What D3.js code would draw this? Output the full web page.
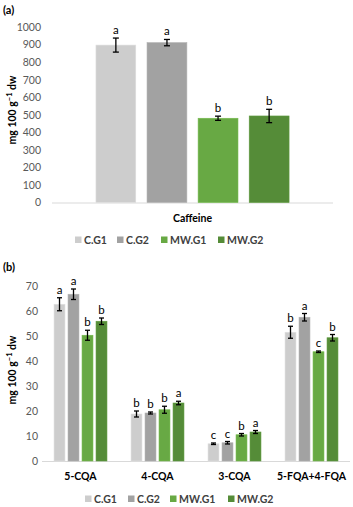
<!DOCTYPE html>
<html>
<head>
<meta charset="utf-8">
<script src="https://cdn.jsdelivr.net/npm/d3@7"></script>
<style>
  body { margin: 0; background: #fff; }
  svg { font-family: Lato, "Open Sans", sans-serif; }
</style>
</head>
<body>
<svg id="chart" width="353" height="507"></svg>
<script>
// series and colours
var seriesNames = ["C.G1", "C.G2", "MW.G1", "MW.G2"];
var seriesColors = ["#cdcdcd", "#a2a2a2", "#68a944", "#558c38"];

// panel (a): caffeine
var catsA = ["Caffeine"];
var valuesA = [[897], [911], [480], [493]];
var errorsA = [[40], [18], [12], [38]];
var lettersA = [["a"], ["a"], ["b"], ["b"]];
var ticksA = [0, 100, 200, 300, 400, 500, 600, 700, 800, 900, 1000];

// panel (b): chlorogenic acids
var catsB = ["5-CQA", "4-CQA", "3-CQA", "5-FQA+4-FQA"];
var valuesB = [
    [62.7, 18.8, 6.9, 51.5],
    [66.7, 19.2, 7.3, 57.5],
    [50.3, 20.5, 10.5, 43.7],
    [55.9, 23.2, 11.6, 49.3]
];
var errorsB = [
    [2.6, 1.2, 0.3, 2.4],
    [2.1, 0.4, 0.5, 1.5],
    [2.0, 1.4, 0.5, 0.3],
    [1.3, 0.7, 0.6, 1.3]
];
var lettersB = [
    ["a", "b", "c", "b"],
    ["a", "b", "c", "a"],
    ["b", "b", "b", "c"],
    ["b", "a", "a", "b"]
];
var ticksB = [0, 10, 20, 30, 40, 50, 60, 70];

var svg = d3.select("#chart");

function drawPanel (cfg) {

    var g = svg.append("g");

    var y = d3.scaleLinear()
                .domain([0, cfg.yMax])
                .range([cfg.y0, cfg.y1]);

    var x0 = d3.scaleBand()
                .domain(cfg.cats)
                .range([cfg.xLeft, cfg.xRight])
                .padding(0);

    var x1 = d3.scaleBand()
                .domain(seriesNames)
                .range([0, x0.bandwidth()])
                .paddingInner(0.22)
                .paddingOuter(0.86);

    // panel tag
    g.append("text")
        .attr("x", 3)
        .attr("y", cfg.tagY)
        .attr("font-size", 11)
        .attr("font-weight", "bold")
        .attr("fill", "#000")
        .text(cfg.tag);

    // y axis tick labels, no axis line
    var yAxis = d3.axisLeft(y)
                    .tickValues(cfg.ticks)
                    .tickFormat(d3.format("d"))
                    .tickSize(0)
                    .tickPadding(0);
    var ya = g.append("g")
        .attr("transform", "translate(" + cfg.tickX + ",0)")
        .call(yAxis);
    ya.select(".domain").remove();
    ya.selectAll("text")
        .attr("fill", "#595959")
        .attr("font-size", 10.5)
        .attr("font-family", "Lato, sans-serif");

    // y axis title
    var title = g.append("text")
        .attr("transform", "translate(16," + cfg.titleY + ") rotate(-90)")
        .attr("text-anchor", "middle")
        .attr("font-size", 10.5)
        .attr("font-weight", "bold")
        .attr("fill", "#000");
    title.append("tspan").text("mg 100 g");
    title.append("tspan").attr("dy", -4).attr("font-size", 7.5).text("\u22121");
    title.append("tspan").attr("dy", 4).text(" dw");

    // baseline
    g.append("line")
        .attr("x1", cfg.xLeft)
        .attr("x2", cfg.xRight)
        .attr("y1", y(0) + 0.5)
        .attr("y2", y(0) + 0.5)
        .attr("stroke", "#d9d9d9");

    seriesNames.forEach(function (s, i) {
        var sg = g.append("g");
        var data = cfg.cats.map(function (c, j) {
            return {cat: c, v: cfg.values[i][j], e: cfg.errors[i][j], l: cfg.letters[i][j]};
        });

        sg.selectAll("rect")
            .data(data)
            .join("rect")
            .attr("x", d => x0(d.cat) + x1(s))
            .attr("y", d => y(d.v))
            .attr("width", x1.bandwidth())
            .attr("height", d => y(0) - y(d.v))
            .attr("fill", seriesColors[i])
            .attr("stroke", d3.color(seriesColors[i]).brighter(0.25))
            .attr("stroke-width", 0.6);

        var cx = d => x0(d.cat) + x1(s) + x1.bandwidth() / 2;

        sg.selectAll("line.err")
            .data(data)
            .join("line")
            .attr("class", "err")
            .attr("x1", cx).attr("x2", cx)
            .attr("y1", d => y(d.v + d.e))
            .attr("y2", d => y(d.v - d.e))
            .attr("stroke", "#000")
            .attr("stroke-width", 1.3);

        [1, -1].forEach(function (sign) {
            sg.selectAll("line.cap" + (sign > 0 ? "t" : "b"))
                .data(data)
                .join("line")
                .attr("class", "cap" + (sign > 0 ? "t" : "b"))
                .attr("x1", d => cx(d) - cfg.cap)
                .attr("x2", d => cx(d) + cfg.cap)
                .attr("y1", d => y(d.v + sign * d.e))
                .attr("y2", d => y(d.v + sign * d.e))
                .attr("stroke", "#000")
                .attr("stroke-width", 1.3);
        });

        sg.selectAll("text")
            .data(data)
            .join("text")
            .attr("x", cx)
            .attr("y", d => y(d.v + d.e) - 4)
            .attr("text-anchor", "middle")
            .attr("font-size", 11.5)
            .attr("fill", "#000")
            .text(d => d.l);
    });

    // category labels
    g.selectAll("text.cat")
        .data(cfg.cats)
        .join("text")
        .attr("class", "cat")
        .attr("x", d => x0(d) + x0.bandwidth() / 2)
        .attr("y", cfg.catY)
        .attr("text-anchor", "middle")
        .attr("font-size", 10.5)
        .attr("font-weight", "bold")
        .attr("fill", "#000")
        .text(d => d);

    // legend
    var lg = g.append("g");
    seriesNames.forEach(function (s, i) {
        lg.append("rect")
            .attr("x", cfg.legendX[i])
            .attr("y", cfg.legendY - 3.5)
            .attr("width", 6.5)
            .attr("height", 6.5)
            .attr("fill", seriesColors[i]);
        lg.append("text")
            .attr("x", cfg.legendX[i] + 9)
            .attr("y", cfg.legendY + 4)
            .attr("font-size", 10.5)
            .attr("font-weight", "bold")
            .attr("fill", "#404040")
            .text(s);
    });
}

drawPanel({
    tag: "(a)", tagY: 14,
    cats: catsA, values: valuesA, errors: errorsA, letters: lettersA,
    ticks: ticksA, yMax: 1000, y0: 202.5, y1: 27,
    xLeft: 52, xRight: 333, tickX: 41, titleY: 110,
    cap: 3, catY: 222,
    legendX: [75, 117, 161, 218], legendY: 240
});

drawPanel({
    tag: "(b)", tagY: 271,
    cats: catsB, values: valuesB, errors: errorsB, letters: lettersB,
    ticks: ticksB, yMax: 70, y0: 461, y1: 286,
    xLeft: 42, xRight: 350, tickX: 38, titleY: 370,
    cap: 2.5, catY: 480,
    legendX: [85, 128, 170, 228], legendY: 499
});
</script>
</body>
</html>
